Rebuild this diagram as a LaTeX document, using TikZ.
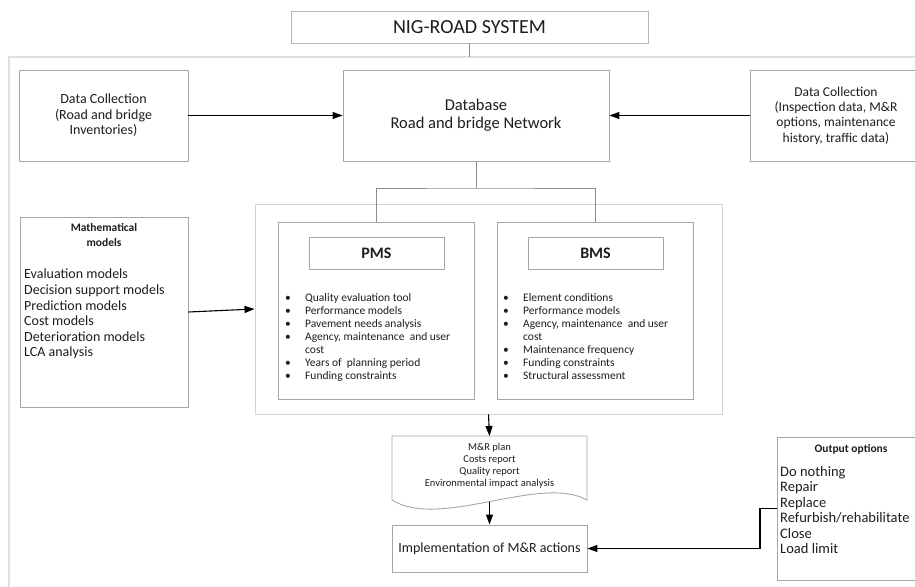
\documentclass[tikz,border=0pt]{standalone}
\usepackage{fontspec}
\setmainfont{Carlito}
\usetikzlibrary{arrows.meta}
\definecolor{boxgray}{HTML}{A6A6A6}
\definecolor{titlegray}{HTML}{B8B8B8}
\definecolor{contgray}{HTML}{D4D4D4}
\definecolor{framegray}{HTML}{E0E0E0}
\definecolor{linegray}{HTML}{8C8C8C}
\definecolor{txt}{HTML}{1E1E1E}
\newcommand{\bulit}{\makebox[20pt][l]{\textbullet}}
\newcommand{\contit}{\hspace*{20pt}}
\begin{document}
\begin{tikzpicture}[x=1pt,y=-1pt,
  box/.style={draw=boxgray, line width=0.9pt, inner sep=0pt, align=center, text=txt},
  lbl/.style={inner sep=0pt, text=txt},
  arr/.style={-{Triangle[length=10pt,width=7pt]}, line width=1.1pt, draw=black},
  conn/.style={draw=linegray, line width=0.9pt},
]
\useasboundingbox (0,0) rectangle (915,586);
\clip (0,0) rectangle (915,586);
\fill[white] (0,0) rectangle (915,586);

% outer frame
\draw[framegray, line width=1.8pt] (920,57) -- (9,57) -- (9,590);

% title
\node[box, draw=titlegray, minimum width=357pt, minimum height=32pt,
  font=\fontsize{20}{24}\selectfont] (title) at (469.5,27) {NIG-ROAD SYSTEM};
\coordinate (ftop) at (469.5,57);
\draw[conn] (title.south) -- (ftop);

% top row
\node[box, minimum width=169pt, minimum height=91pt,
  font=\fontsize{14}{15.5}\selectfont] (dcl) at (103.5,115.5)
  {Data Collection\\(Road and bridge\\Inventories)};
\node[box, minimum width=266pt, minimum height=91pt,
  font=\fontsize{16.5}{18}\selectfont] (db) at (476,115.5)
  {Database\\Road and bridge Network};
\node[box, minimum width=172pt, minimum height=91pt,
  font=\fontsize{13.5}{15.4}\selectfont] (dcr) at (836,115.5)
  {Data Collection\\(Inspection data, M\&R\\options, maintenance\\history, traffic data)};
\draw[arr] (dcl) -- (db);
\draw[arr] (dcr) -- (db);

% container with PMS / BMS
\node[box, draw=contgray, minimum width=467pt, minimum height=210pt] (cont) at (488.5,309) {};
\node[box, minimum width=196pt, minimum height=177pt] (pms) at (376,310.5) {};
\node[box, minimum width=196pt, minimum height=177pt] (bms) at (595,310.5) {};
\node[box, minimum width=135pt, minimum height=32pt,
  font=\bfseries\fontsize{16}{18}\selectfont] (pmst) at (376.5,253) {PMS};
\node[box, minimum width=135pt, minimum height=32pt,
  font=\bfseries\fontsize{16}{18}\selectfont] (bmst) at (595.5,253) {BMS};
\node[lbl, anchor=north west, align=left, font=\fontsize{11.5}{13}\selectfont] (pmsl) at (285,293)
  {\bulit Quality evaluation tool\\
   \bulit Performance models\\
   \bulit Pavement needs analysis\\
   \bulit Agency, maintenance\ \ and user\\
   \contit cost\\
   \bulit Years of\ \ planning period\\
   \bulit Funding constraints};
\node[lbl, anchor=north west, align=left, font=\fontsize{11.5}{13}\selectfont] (bmsl) at (503,293)
  {\bulit Element conditions\\
   \bulit Performance models\\
   \bulit Agency, maintenance\ \ and user\\
   \contit cost\\
   \bulit Maintenance frequency\\
   \bulit Funding constraints\\
   \bulit Structural assessment};
\coordinate (split) at (476,188);
\draw[conn] (db.south) -- (split);
\draw[conn] (pms.north) |- (split) -| (bms.north);

% mathematical models
\node[box, minimum width=168pt, minimum height=190pt] (math) at (104,312) {};
\node[lbl, align=center, font=\bfseries\fontsize{11.5}{15}\selectfont] (mathh) at (104,234.5)
  {Mathematical\\models};
\node[lbl, anchor=north west, align=left, font=\fontsize{14}{15.6}\selectfont] (mathl) at (24,269)
  {Evaluation models\\Decision support models\\Prediction models\\Cost models\\Deterioration models\\LCA analysis};
\draw[arr] (math.east) -- (cont.west);

% document shape
\draw[draw=boxgray, line width=0.9pt] (392,436) -- (587,436) -- (587,500)
  .. controls (540,474) and (440,530) .. (392,500) -- cycle;
\node[lbl, anchor=north, minimum width=195pt, minimum height=58pt, align=center,
  font=\fontsize{10.5}{12}\selectfont] (doc) at (489.5,436)
  {M\&R plan\\Costs report\\Quality report\\Environmental impact analysis};
\coordinate (docbot) at (489.5,501.5);
\draw[arr] (cont.south) -- (doc.north);

% implementation
\node[box, minimum width=195pt, minimum height=47pt,
  font=\fontsize{14}{16}\selectfont] (impl) at (489.5,548.5) {Implementation of M\&R actions};
\draw[arr] (docbot) -- (impl.north);

% output options
\node[box, minimum width=150pt, minimum height=143pt] (outb) at (852,508.5) {};
\node[lbl, font=\bfseries\fontsize{11.5}{13}\selectfont] (outh) at (851,449) {Output options};
\node[lbl, anchor=north west, align=left, font=\fontsize{14.5}{15.5}\selectfont] (outl) at (780,466)
  {Do nothing\\Repair\\Replace\\Refurbish/rehabilitate\\Close\\Load limit};
\coordinate (ojoin) at (760,508.5);
\draw[arr] (outb.west) -- (ojoin) |- (impl.east);
\end{tikzpicture}
\end{document}
